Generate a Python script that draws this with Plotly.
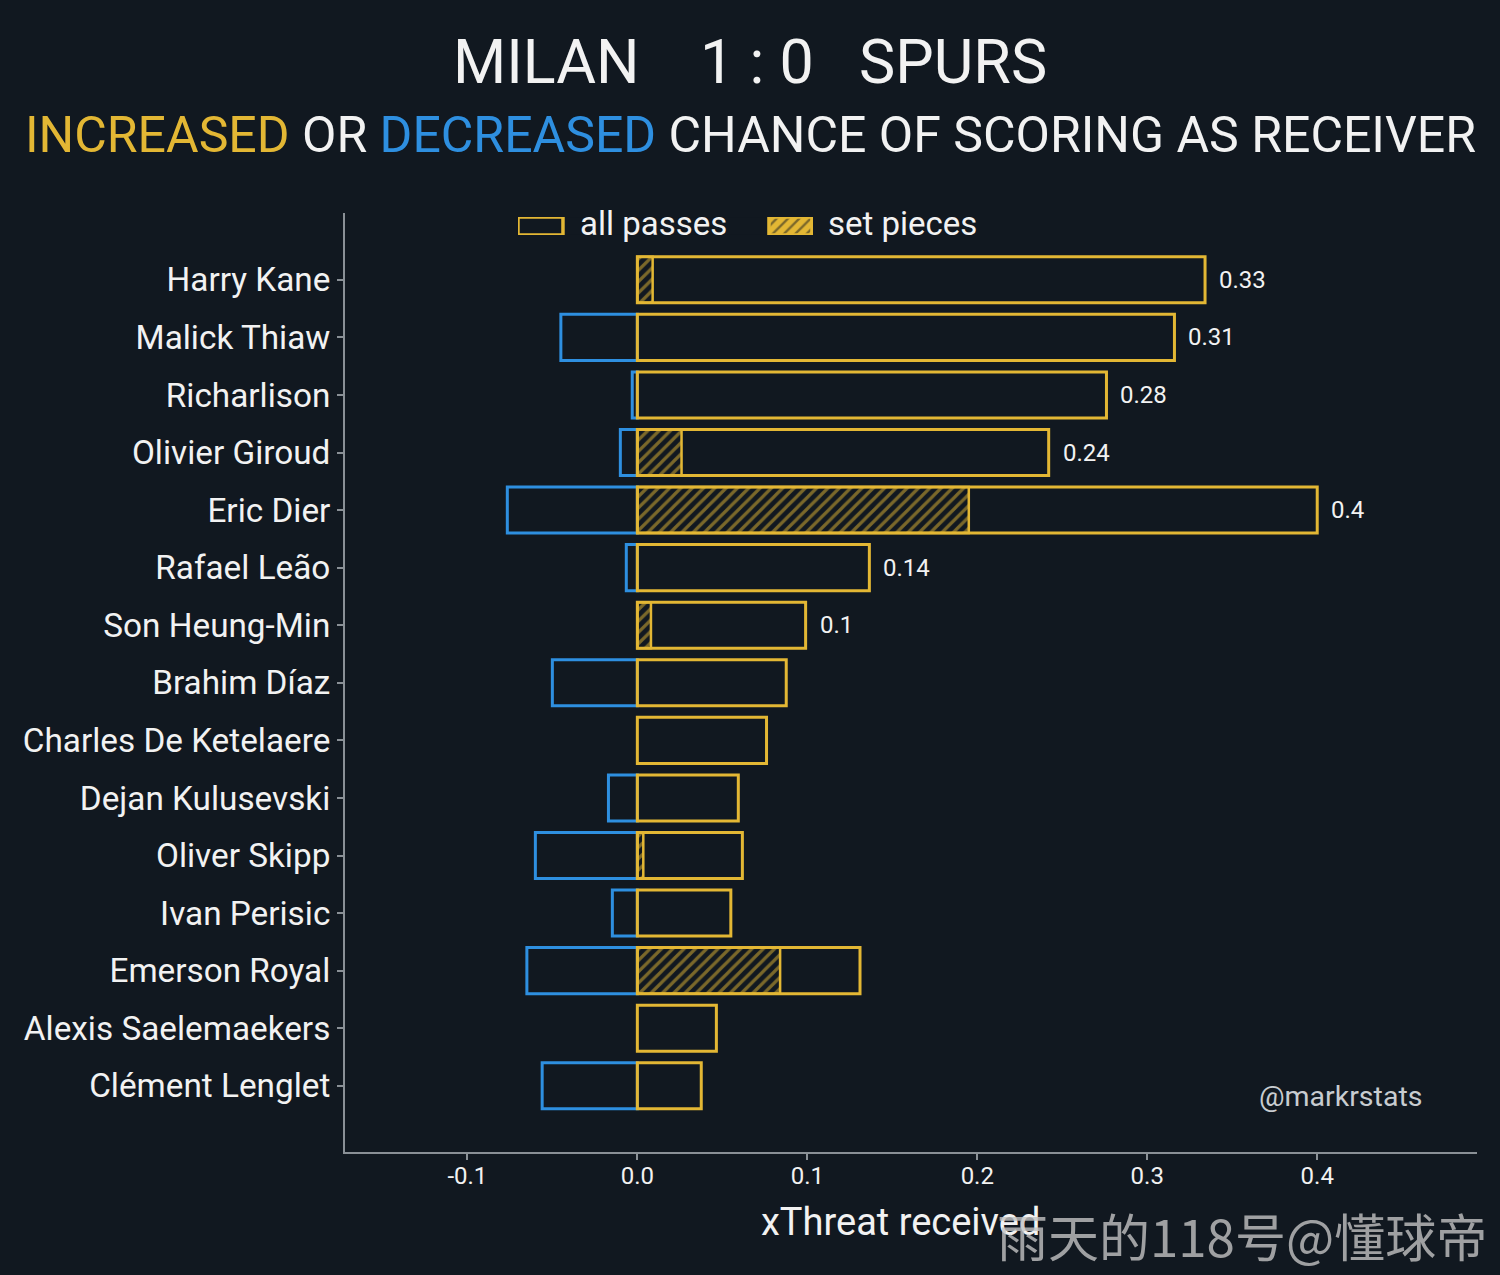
import plotly.graph_objects as go

players = ["Harry Kane", "Malick Thiaw", "Richarlison", "Olivier Giroud", "Eric Dier",
           "Rafael Leão", "Son Heung-Min", "Brahim Díaz", "Charles De Ketelaere",
           "Dejan Kulusevski", "Oliver Skipp", "Ivan Perisic", "Emerson Royal",
           "Alexis Saelemaekers", "Clément Lenglet"]
increased = [0.334, 0.316, 0.276, 0.242, 0.400, 0.1365, 0.099, 0.0876, 0.076,
             0.0594, 0.0618, 0.055, 0.131, 0.0465, 0.0376]
decreased = [0.0, -0.045, -0.003, -0.010, -0.0765, -0.0065, 0.0, -0.050, 0.0,
             -0.017, -0.060, -0.0147, -0.065, 0.0, -0.056]
set_pieces = [0.009, 0.0, 0.0, 0.026, 0.195, 0.0, 0.008, 0.0, 0.0,
              0.0, 0.0035, 0.0, 0.084, 0.0, 0.0]
value_labels = ["0.33", "0.31", "0.28", "0.24", "0.4", "0.14", "0.1",
                "", "", "", "", "", "", "", ""]
x_ticks = [-0.1, 0.0, 0.1, 0.2, 0.3, 0.4]
x_ticklabels = ["-0.1", "0.0", "0.1", "0.2", "0.3", "0.4"]
legend_names = ["all passes", "set pieces"]

BG = "#111820"
GOLD = "#E3B734"
BLUE = "#2E8FE0"
WHITE = "#F2F2F2"
GRAY = "#8A9096"
FONT = "Roboto"

fig = go.Figure()

neg_x = [d if d < 0 else None for d in decreased]
fig.add_trace(go.Bar(
    y=players, x=neg_x, orientation="h", width=0.8,
    marker=dict(color="rgba(0,0,0,0)", line=dict(color=BLUE, width=3)),
    showlegend=False, name="decreased",
))
fig.add_trace(go.Bar(
    y=players, x=increased, orientation="h", width=0.8,
    marker=dict(color="rgba(0,0,0,0)", line=dict(color=GOLD, width=3)),
    showlegend=False, name=legend_names[0],
))
sp_x = [s if s > 0 else None for s in set_pieces]
fig.add_trace(go.Bar(
    y=players, x=sp_x, orientation="h", width=0.8,
    marker=dict(color="rgba(0,0,0,0)", line=dict(color=GOLD, width=2.5),
                pattern=dict(shape="/", fgcolor=GOLD, bgcolor="rgba(0,0,0,0)",
                             size=8, solidity=0.4)),
    showlegend=False, name=legend_names[1],
))

for p, v, lab in zip(players, increased, value_labels):
    if lab:
        fig.add_annotation(x=v, y=p, text=lab, showarrow=False,
                           xanchor="left", xshift=12,
                           font=dict(family=FONT, size=24, color=WHITE))

# legend keys drawn as small bars on a tiny auxiliary axis
fig.add_trace(go.Bar(
    x=[45], base=[0], y=[0], orientation="h", width=1, xaxis="x2", yaxis="y2",
    marker=dict(color="rgba(0,0,0,0)", line=dict(color=GOLD, width=3.5)),
    showlegend=False, hoverinfo="skip",
))
fig.add_trace(go.Bar(
    x=[43], base=[251], y=[0], orientation="h", width=1, xaxis="x2", yaxis="y2",
    marker=dict(color=GOLD, line=dict(color=GOLD, width=3.5),
                pattern=dict(shape="/", fgcolor=BG, bgcolor=GOLD, size=8, solidity=0.3)),
    showlegend=False, hoverinfo="skip",
))
fig.add_annotation(xref="paper", yref="paper", x=0.2058, y=0.9883, text=legend_names[0],
                   showarrow=False, xanchor="left", yanchor="middle",
                   font=dict(family=FONT, size=33, color=WHITE))
fig.add_annotation(xref="paper", yref="paper", x=0.425, y=0.9883, text=legend_names[1],
                   showarrow=False, xanchor="left", yanchor="middle",
                   font=dict(family=FONT, size=33, color=WHITE))

fig.add_annotation(xref="paper", yref="paper", x=0.953, y=0.0596,
                   text="@markrstats", showarrow=False, xanchor="right", yanchor="middle",
                   font=dict(family=FONT, size=28.5, color="#C8CCD0"))

fig.add_annotation(xref="paper", yref="paper", x=0.358, y=1.161,
                   text="MILAN\u00a0\u00a0\u00a0 1 : 0 \u00a0\u00a0SPURS",
                   showarrow=False, xanchor="center", yanchor="middle",
                   font=dict(family=FONT, size=61, color=WHITE))
fig.add_annotation(xref="paper", yref="paper", x=0.358, y=1.083,
                   text=(f"<span style='color:{GOLD}'>INCREASED</span> OR "
                         f"<span style='color:{BLUE}'>DECREASED</span> CHANCE OF SCORING AS RECEIVER"),
                   showarrow=False, xanchor="center", yanchor="middle",
                   font=dict(family=FONT, size=50, color=WHITE))

# x-axis title
fig.add_annotation(xref="paper", yref="paper", x=0.4905, y=-0.0745,
                   text="xThreat received", showarrow=False,
                   xanchor="center", yanchor="middle",
                   font=dict(family=FONT, size=38, color=WHITE))

fig.add_annotation(xref="paper", yref="paper", x=1.0105, y=-0.0885,
                   text="雨天的118号@懂球帝", showarrow=False,
                   xanchor="right", yanchor="middle",
                   font=dict(family="Noto Sans CJK SC", size=51, color="rgba(195,195,195,0.8)"))

fig.update_layout(
    width=1500, height=1275,
    paper_bgcolor=BG, plot_bgcolor=BG,
    barmode="overlay",
    showlegend=False,
    margin=dict(l=345, r=23, t=213, b=123),
    font=dict(family=FONT, color=WHITE),
    xaxis=dict(range=[-0.172, 0.494], tickvals=x_ticks, ticktext=x_ticklabels,
               showgrid=False, zeroline=False, showline=True, linecolor=GRAY, linewidth=2,
               ticks="outside", ticklen=6, tickcolor=GRAY, tickwidth=1.5,
               ticklabelstandoff=-5,
               tickfont=dict(family=FONT, size=24, color=WHITE)),
    yaxis=dict(categoryorder="array", categoryarray=players, autorange=False,
               range=[len(players) - 1 + 1.15, -1.16],
               showgrid=False, zeroline=False, showline=True, linecolor=GRAY, linewidth=2,
               ticks="outside", ticklen=6, tickcolor=GRAY, tickwidth=1.5,
               tickfont=dict(family=FONT, size=33.3, color=WHITE)),
    xaxis2=dict(domain=[0.1528, 0.4134], range=[0, 295], visible=False, fixedrange=True),
    yaxis2=dict(domain=[0.9766, 0.9957], range=[-0.5, 0.5], visible=False, fixedrange=True,
                anchor="x2"),
)
fig.update_layout(xaxis2_anchor="y2")

fig.write_html("out.html", config={"displayModeBar": False})

with open("out.html", "r", encoding="utf-8") as f:
    html = f.read()
html = html.replace("<head>", "<head><style>html,body{margin:0;padding:0;overflow:hidden;background:#111820;}</style>", 1)
with open("out.html", "w", encoding="utf-8") as f:
    f.write(html)
